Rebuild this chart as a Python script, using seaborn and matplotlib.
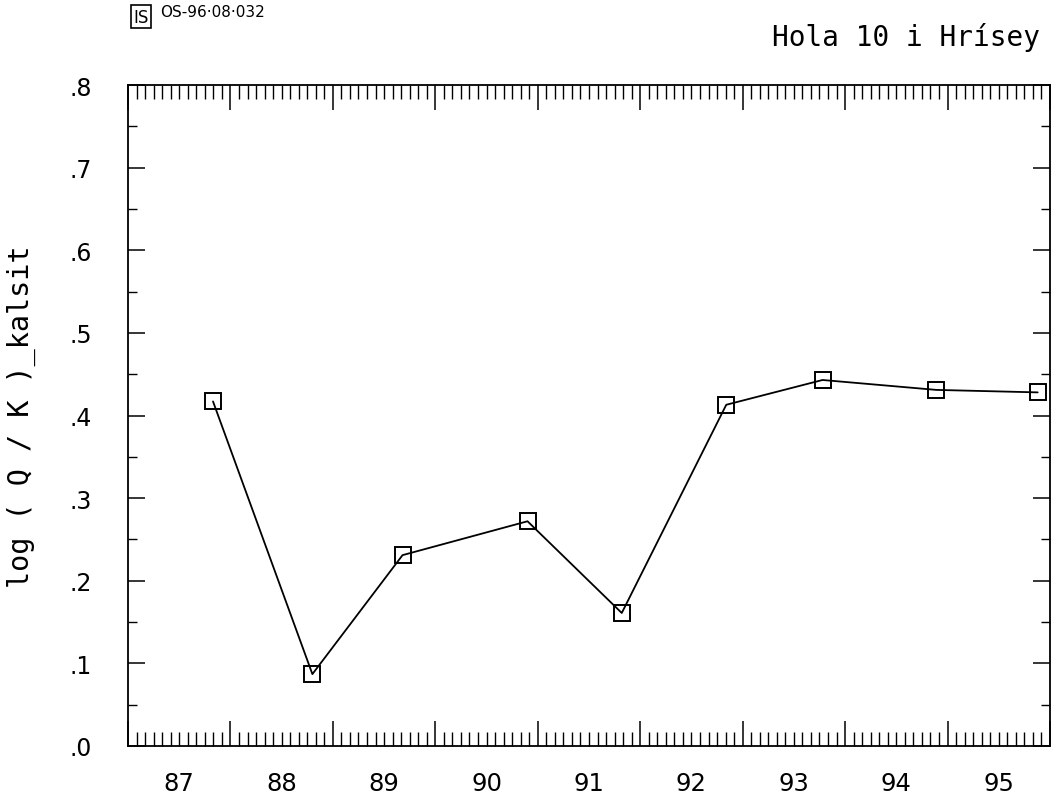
import numpy as np
import pandas as pd
import matplotlib
matplotlib.use("Agg")
import matplotlib.pyplot as plt
import seaborn as sns
from matplotlib.ticker import MultipleLocator, FixedLocator

# ---- data ----
years = [87.83, 88.80, 89.68, 90.90, 91.82, 92.84, 93.78, 94.89, 95.88]
values = [0.417, 0.087, 0.231, 0.272, 0.161, 0.413, 0.443, 0.431, 0.428]
year_labels = ["87", "88", "89", "90", "91", "92", "93", "94", "95"]
year_label_pos = [87.5, 88.5, 89.5, 90.5, 91.5, 92.5, 93.5, 94.5, 95.5]
ytick_vals = [0.0, 0.1, 0.2, 0.3, 0.4, 0.5, 0.6, 0.7, 0.8]
ytick_labels = [".0", ".1", ".2", ".3", ".4", ".5", ".6", ".7", ".8"]
title = "Hola 10 i Hrísey"
ylabel = "log ( Q / K )_kalsit"
stamp = "OS-96·08·032"

sns.set_style("white")
plt.rcParams["font.family"] = ["DejaVu Sans"]
plt.rcParams["text.color"] = "black"
plt.rcParams["axes.labelcolor"] = "black"
plt.rcParams["xtick.color"] = "black"
plt.rcParams["ytick.color"] = "black"

fig = plt.figure(figsize=(10.56, 8.04), dpi=100)
ax = fig.add_axes([0.1212, 0.0709, 0.8731, 0.8221])

df = pd.DataFrame({"year": years, "value": values})
sns.lineplot(data=df, x="year", y="value", ax=ax, color="black", lw=1.3,
             marker="s", markersize=12, markerfacecolor="none",
             markeredgecolor="black", markeredgewidth=1.4)

ax.set_xlim(87, 96)
ax.set_ylim(0, 0.8)
ax.xaxis.set_major_locator(MultipleLocator(1))
ax.xaxis.set_minor_locator(MultipleLocator(1 / 12))
ax.yaxis.set_major_locator(FixedLocator(ytick_vals))
ax.set_yticklabels(ytick_labels)
ax.yaxis.set_minor_locator(MultipleLocator(0.05))

ax.tick_params(axis="x", which="major", direction="in", length=18, width=1.1,
               top=True, bottom=True, labelbottom=False, color="black")
ax.tick_params(axis="x", which="minor", direction="in", length=10, width=1.0,
               top=True, bottom=True, color="black")
ax.tick_params(axis="y", which="major", direction="in", length=12, width=1.1,
               left=True, right=True, labelsize=17, pad=26, color="black",
               labelcolor="black")
ax.tick_params(axis="y", which="minor", direction="in", length=6.5, width=1.0,
               left=True, right=True, color="black")

for s in ax.spines.values():
    s.set_visible(True)
    s.set_color("black")
    s.set_linewidth(1.3)

sec = ax.secondary_xaxis("bottom")
sec.set_xticks(year_label_pos, year_labels)
sec.tick_params(length=0, labelsize=17.5, pad=18, labelcolor="black")
sec.spines["bottom"].set_visible(False)

ax.set_xlabel("")
ax.set_ylabel(ylabel, family="DejaVu Sans Mono", fontsize=20.5, color="black")
ax.yaxis.set_label_coords(-0.1, 0.5)

fig.text(0.985, 0.953, title, ha="right", va="center",
         family="DejaVu Sans Mono", fontsize=20, color="black")

fig.text(0.126, 0.978, "IS", ha="left", va="center", fontsize=12, color="black",
         bbox=dict(boxstyle="square,pad=0.15", fc="none", ec="black", lw=1.2))
fig.text(0.152, 0.984, stamp, ha="left", va="center", fontsize=11, color="black")

fig.savefig("out.png", dpi=100)
